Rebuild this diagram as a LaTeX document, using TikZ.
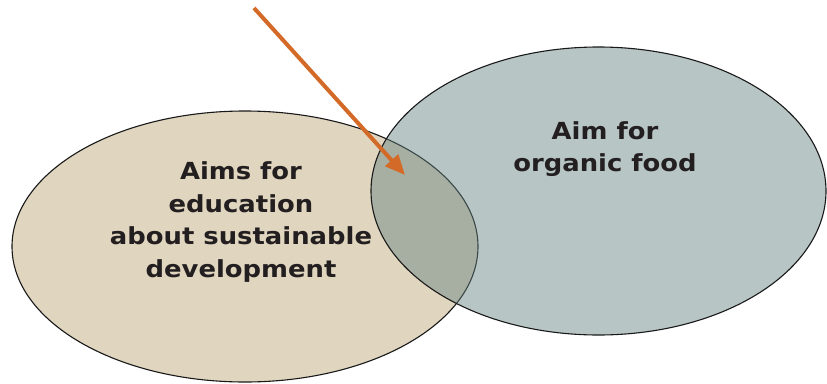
\documentclass[tikz,border=0pt]{standalone}
\usepackage{fontspec}
\setmainfont{DejaVu Sans}[FakeStretch=1.1]
\usetikzlibrary{shapes.geometric,arrows.meta}
\definecolor{leftfill}{RGB}{224,213,190}
\definecolor{rightfill}{RGB}{100,129,129}
\definecolor{arrowc}{RGB}{212,106,40}
\definecolor{txt}{RGB}{35,31,32}
\tikzset{
  venn/.style={ellipse,draw=black!90,line width=1.1pt,inner sep=0pt},
  lbl/.style={align=center,font=\bfseries\fontsize{23.5}{32.5}\selectfont,text=txt,inner sep=0pt},
  pointer/.style={draw=arrowc,line width=4pt,-{Triangle[length=20pt,width=17pt]}}
}
\begin{document}
\begin{tikzpicture}[x=1pt,y=-1pt]
\useasboundingbox (0,0) rectangle (827,383);
\node[venn,fill=leftfill,minimum width=466pt,minimum height=271pt] (edu) at (245,246.5) {};
\node[venn,fill=rightfill,fill opacity=0.46,minimum width=455pt,minimum height=288pt] (org) at (598.5,191) {};
\node[lbl] (edutext) at (241,222) {Aims for\\education\\about sustainable\\development};
\node[lbl] (orgtext) at (605,149) {Aim for\\organic food};
\coordinate (start) at (254,8);
\coordinate (tip) at (405,175);
\draw[pointer] (start) -- (tip);
\end{tikzpicture}
\end{document}
